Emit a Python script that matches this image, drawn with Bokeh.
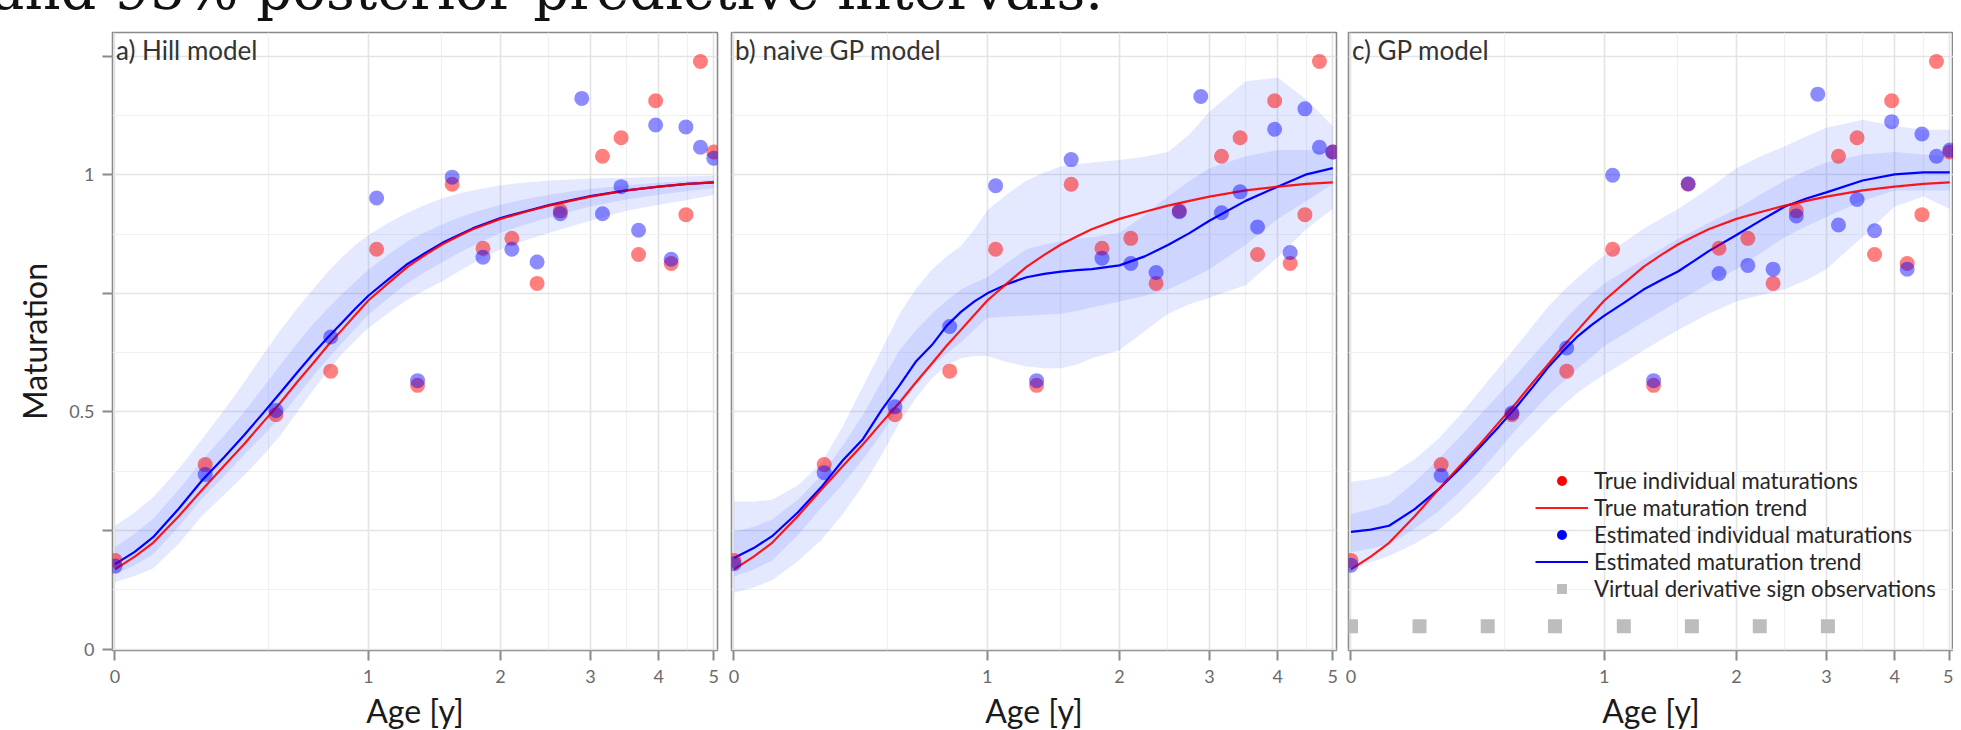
import numpy as np
from bokeh.plotting import figure
from bokeh.models import (ColumnDataSource, FixedTicker, Range1d, Label, Legend,
                          LegendItem, Div)
from bokeh.layouts import row, column
from bokeh.transform import dodge
from bokeh.embed import file_html
from bokeh.resources import INLINE

NAN = float("nan")

# ---------------- data ----------------
# ages of the simulated individuals [y]
AGES = [0.00, 0.26, 0.53, 0.79, 1.05, 1.32, 1.58, 1.84, 2.11, 2.37,
        2.63, 2.89, 3.16, 3.42, 3.68, 3.95, 4.21, 4.47, 4.74, 5.00]
# true individual maturations (the one at 2.89 y lies above the plotted range)
TRUE_IND = [0.187, 0.389, 0.494, 0.586, 0.843, 0.556, 0.980, 0.845, 0.866, 0.771,
            0.924, NAN, 1.039, 1.078, 0.832, 1.156, 0.813, 0.916, 1.239, 1.048]
# estimated individual maturations
HILL_IND = [0.175, 0.368, 0.503, 0.658, 0.951, 0.566, 0.995, 0.826, 0.843, 0.816,
            0.918, 1.161, 0.918, 0.975, 0.883, 1.105, 0.822, 1.101, 1.058, 1.035]
NGP_IND = [0.180, 0.372, 0.511, 0.680, 0.977, 0.566, 1.032, 0.824, 0.813, 0.794,
           0.922, 1.165, 0.920, 0.964, 0.890, 1.096, 0.836, 1.139, 1.058, 1.048]
GP_IND = [0.177, 0.366, 0.498, 0.635, 0.999, 0.566, 0.981, 0.792, 0.809, 0.801,
          0.913, 1.170, 0.894, 0.948, 0.882, 1.112, 0.801, 1.086, 1.039, 1.052]

# trends and intervals, read at these ages [y]
TREND_AGES = [0, 0.05, 0.1, 0.175, 0.25, 0.325, 0.4, 0.475, 0.55, 0.625,
              0.7, 0.775, 0.85, 0.925, 1.0, 1.125, 1.25, 1.375, 1.5, 1.625,
              1.75, 2.0, 2.25, 2.5, 2.75, 3.0, 3.5, 4.0, 4.5, 5.0]
TRUE_TREND = [0.168, 0.195, 0.224, 0.280, 0.336, 0.386, 0.432, 0.478, 0.520, 0.563,
              0.602, 0.640, 0.673, 0.705, 0.735, 0.772, 0.806, 0.831, 0.853, 0.870,
              0.885, 0.907, 0.922, 0.935, 0.945, 0.954, 0.967, 0.975, 0.981, 0.984]

HILL_TREND = [0.179, 0.205, 0.236, 0.296, 0.356, 0.404, 0.451, 0.497, 0.541, 0.583,
              0.622, 0.657, 0.688, 0.718, 0.745, 0.780, 0.812, 0.835, 0.856, 0.872,
              0.887, 0.909, 0.923, 0.936, 0.946, 0.955, 0.967, 0.975, 0.981, 0.984]
HILL_95_HI = [0.260, 0.288, 0.320, 0.380, 0.443, 0.503, 0.562, 0.620, 0.673, 0.718,
              0.758, 0.795, 0.826, 0.852, 0.873, 0.899, 0.920, 0.937, 0.950, 0.960,
              0.967, 0.978, 0.984, 0.988, 0.990, 0.992, 0.994, 0.996, 0.997, 0.998]
HILL_95_LO = [0.141, 0.154, 0.170, 0.222, 0.281, 0.325, 0.366, 0.408, 0.451, 0.500,
              0.545, 0.586, 0.622, 0.651, 0.677, 0.709, 0.737, 0.757, 0.775, 0.795,
              0.813, 0.843, 0.862, 0.877, 0.891, 0.903, 0.924, 0.937, 0.947, 0.958]
HILL_50_HI = [0.215, 0.243, 0.275, 0.336, 0.398, 0.450, 0.500, 0.551, 0.600, 0.645,
              0.685, 0.718, 0.748, 0.775, 0.800, 0.832, 0.860, 0.879, 0.895, 0.909,
              0.920, 0.937, 0.949, 0.958, 0.965, 0.970, 0.978, 0.983, 0.987, 0.989]
HILL_50_LO = [0.158, 0.177, 0.200, 0.258, 0.318, 0.364, 0.410, 0.450, 0.490, 0.533,
              0.575, 0.612, 0.645, 0.676, 0.705, 0.740, 0.772, 0.795, 0.815, 0.834,
              0.850, 0.878, 0.895, 0.910, 0.922, 0.933, 0.948, 0.958, 0.966, 0.972]

NGP_TREND = [0.192, 0.213, 0.238, 0.288, 0.341, 0.398, 0.443, 0.505, 0.556, 0.607,
             0.641, 0.682, 0.711, 0.733, 0.750, 0.770, 0.784, 0.791, 0.796, 0.799,
             0.801, 0.809, 0.828, 0.852, 0.877, 0.903, 0.945, 0.975, 1.001, 1.014]
NGP_95_HI = [0.311, 0.311, 0.315, 0.345, 0.392, 0.470, 0.554, 0.632, 0.707, 0.760,
             0.800, 0.828, 0.850, 0.885, 0.925, 0.960, 0.988, 1.005, 1.018, 1.022,
             1.026, 1.031, 1.038, 1.048, 1.085, 1.133, 1.197, 1.205, 1.158, 1.103]
NGP_95_LO = [0.119, 0.130, 0.145, 0.185, 0.230, 0.285, 0.345, 0.410, 0.477, 0.530,
             0.571, 0.598, 0.613, 0.618, 0.618, 0.605, 0.596, 0.592, 0.592, 0.600,
             0.613, 0.630, 0.670, 0.707, 0.727, 0.741, 0.767, 0.826, 0.886, 0.928]
NGP_50_HI = [0.247, 0.258, 0.273, 0.315, 0.366, 0.430, 0.494, 0.565, 0.630, 0.673,
             0.707, 0.735, 0.758, 0.772, 0.784, 0.815, 0.843, 0.853, 0.860, 0.865,
             0.869, 0.877, 0.915, 0.954, 0.987, 1.014, 1.039, 1.052, 1.052, 1.048]
NGP_50_LO = [0.153, 0.168, 0.187, 0.240, 0.298, 0.348, 0.400, 0.455, 0.511, 0.556,
             0.596, 0.623, 0.647, 0.674, 0.698, 0.701, 0.703, 0.705, 0.707, 0.713,
             0.720, 0.733, 0.745, 0.758, 0.779, 0.801, 0.852, 0.907, 0.945, 0.980]

GP_TREND = [0.247, 0.252, 0.260, 0.295, 0.336, 0.381, 0.426, 0.469, 0.511, 0.554,
            0.596, 0.630, 0.660, 0.683, 0.703, 0.731, 0.758, 0.778, 0.796, 0.818,
            0.839, 0.873, 0.905, 0.933, 0.950, 0.963, 0.988, 1.001, 1.005, 1.005]
GP_95_HI = [0.353, 0.358, 0.366, 0.400, 0.443, 0.493, 0.545, 0.593, 0.639, 0.683,
            0.724, 0.756, 0.784, 0.808, 0.830, 0.859, 0.886, 0.908, 0.928, 0.950,
            0.971, 1.014, 1.040, 1.060, 1.081, 1.099, 1.116, 1.103, 1.095, 1.095]
GP_95_LO = [0.170, 0.183, 0.196, 0.222, 0.251, 0.290, 0.332, 0.374, 0.417, 0.452,
            0.486, 0.515, 0.541, 0.561, 0.579, 0.605, 0.630, 0.652, 0.673, 0.690,
            0.707, 0.733, 0.747, 0.758, 0.778, 0.801, 0.869, 0.933, 0.954, 0.928]
GP_50_HI = [0.285, 0.295, 0.307, 0.352, 0.400, 0.447, 0.494, 0.537, 0.579, 0.619,
            0.656, 0.692, 0.724, 0.749, 0.771, 0.797, 0.822, 0.844, 0.865, 0.882,
            0.899, 0.928, 0.960, 0.988, 1.009, 1.026, 1.043, 1.048, 1.043, 1.039]
GP_50_LO = [0.204, 0.212, 0.221, 0.254, 0.290, 0.332, 0.375, 0.420, 0.464, 0.501,
            0.537, 0.565, 0.592, 0.616, 0.639, 0.665, 0.690, 0.712, 0.733, 0.752,
            0.771, 0.801, 0.836, 0.869, 0.892, 0.911, 0.945, 0.967, 0.967, 0.967]

# virtual derivative sign observations (GP model)
VDS_AGES = [0.0, 0.19, 0.43, 0.73, 1.12, 1.61, 2.23, 3.02]
VDS_LEVEL = [0.048, 0.048, 0.048, 0.048, 0.048, 0.048, 0.048, 0.048]

# axis ticks
X_TICKS = [0, 1, 2, 3, 4, 5]
X_MINOR = [0.5, 1.5, 2.5, 3.5, 4.5]
Y_TICKS = [0.0, 0.25, 0.5, 0.75, 1.0, 1.25]
Y_LABELS = ["0", "", "0.5", "", "1", ""]
Y_MINOR = [0.125, 0.375, 0.625, 0.875, 1.125]

AGE_SHIFT = 0.7  # the age axis is logarithmic in (age + 0.7 y)

# ---------------- styling ----------------
FONT = "Lato"
RED = "#ff0000"
BLUE = "#0000ff"
BAND = "#3355ff"
GRID = "#e4e4e4"
GRID_MINOR = "#f0f0f0"
BORDER = "#8a8a8a"

x_ticker = FixedTicker(ticks=[t + AGE_SHIFT for t in X_TICKS],
                       minor_ticks=[t + AGE_SHIFT for t in X_MINOR])
x_labels = {t + AGE_SHIFT: str(t) for t in X_TICKS}
y_ticker = FixedTicker(ticks=Y_TICKS, minor_ticks=Y_MINOR)
y_labels = dict(zip(Y_TICKS, Y_LABELS))


def arr(v):
    return np.array(v, dtype=float)


def make_panel(tag, width, left, right, ind, trend, lo95, hi95, lo50, hi50, show_y):
    p = figure(width=width, height=704, x_axis_type="log",
               x_range=Range1d(0.6939, 5.775), y_range=Range1d(-0.003, 1.3),
               output_backend="svg", toolbar_location=None,
               min_border_left=left, min_border_right=right,
               min_border_top=4, min_border_bottom=79,
               background_fill_color="white", border_fill_color="white",
               outline_line_color=BORDER, outline_line_width=1.6)

    band = ColumnDataSource(dict(age=arr(TREND_AGES), true=arr(TRUE_TREND),
                                 est=arr(trend), lo95=arr(lo95), hi95=arr(hi95),
                                 lo50=arr(lo50), hi50=arr(hi50)))
    pts = ColumnDataSource(dict(age=arr(AGES), true=arr(TRUE_IND), est=arr(ind)))
    ax = dodge("age", AGE_SHIFT)

    p.varea(x=ax, y1="lo95", y2="hi95", source=band, fill_color=BAND, fill_alpha=0.13)
    p.varea(x=ax, y1="lo50", y2="hi50", source=band, fill_color=BAND, fill_alpha=0.13)
    r_est_line = p.line(x=ax, y="est", source=band, line_color=BLUE, line_width=2.2)
    r_true_line = p.line(x=ax, y="true", source=band, line_color=RED, line_width=2.2,
                         line_alpha=0.9)
    p.scatter(x=ax, y="true", source=pts, size=15, fill_color=RED, fill_alpha=0.5,
              line_color=None)
    p.scatter(x=ax, y="est", source=pts, size=15, fill_color=BLUE, fill_alpha=0.45,
              line_color=None)

    # axes
    xa = p.xaxis[0]
    xa.ticker = x_ticker
    xa.major_label_overrides = x_labels
    xa.axis_label = "Age [y]"
    xa.axis_label_text_font = FONT
    xa.axis_label_text_font_size = "32px"
    xa.axis_label_text_font_style = "normal"
    xa.axis_label_text_color = "#1a1a1a"
    xa.axis_label_standoff = 5
    xa.major_label_text_font = FONT
    xa.major_label_text_font_size = "18px"
    xa.major_label_text_color = "#6a6a6a"
    xa.major_label_standoff = 9
    xa.major_tick_out = 10
    xa.major_tick_in = 0
    xa.major_tick_line_color = BORDER
    xa.major_tick_line_width = 2
    xa.minor_tick_line_color = None
    xa.axis_line_color = None

    ya = p.yaxis[0]
    ya.ticker = y_ticker
    ya.major_label_overrides = y_labels
    if show_y:
        ya.axis_label = "Maturation"
        ya.axis_label_text_font = FONT
        ya.axis_label_text_font_size = "32px"
        ya.axis_label_text_font_style = "normal"
        ya.axis_label_text_color = "#1a1a1a"
        ya.axis_label_standoff = 12
        ya.major_label_text_font = FONT
        ya.major_label_text_font_size = "18px"
        ya.major_label_text_color = "#6a6a6a"
        ya.major_label_standoff = 8
        ya.major_tick_out = 10
        ya.major_tick_in = 0
        ya.major_tick_line_color = BORDER
        ya.major_tick_line_width = 2
        ya.minor_tick_line_color = None
        ya.axis_line_color = None
    else:
        ya.visible = False

    # grid
    for g, tk in ((p.xgrid[0], x_ticker), (p.ygrid[0], y_ticker)):
        g.ticker = tk
        g.grid_line_color = GRID
        g.grid_line_width = 1.6
        g.minor_grid_line_color = GRID_MINOR
        g.minor_grid_line_width = 1.2

    p.add_layout(Label(x=AGE_SHIFT, y=1.263, text=tag, text_font=FONT,
                       text_font_size="26px", text_color="#333333",
                       text_align="left", text_baseline="middle", x_offset=1))
    return p, r_true_line, r_est_line


pa, _, _ = make_panel("a) Hill model", 732, 120, 7, HILL_IND, HILL_TREND,
                      HILL_95_LO, HILL_95_HI, HILL_50_LO, HILL_50_HI, True)
pb, _, _ = make_panel("b) naive GP model", 618, 7, 6, NGP_IND, NGP_TREND,
                      NGP_95_LO, NGP_95_HI, NGP_50_LO, NGP_50_HI, False)
pc, r_true_c, r_est_c = make_panel("c) GP model", 611, 6, 0, GP_IND, GP_TREND,
                                   GP_95_LO, GP_95_HI, GP_50_LO, GP_50_HI, False)

vds = ColumnDataSource(dict(age=arr(VDS_AGES), level=arr(VDS_LEVEL)))
r_vds = pc.scatter(x=dodge("age", AGE_SHIFT), y="level", source=vds, marker="square",
                   size=14, fill_color="#bdbdbd", line_color=None)

# legend swatches: solid keys, with no visible mark in the plot itself
key_src = ColumnDataSource(dict(x=arr([NAN]), y=arr([NAN])))
r_key_red = pc.scatter(x="x", y="y", source=key_src, size=16, fill_color=RED,
                       line_color=None)
r_key_blue = pc.scatter(x="x", y="y", source=key_src, size=16, fill_color=BLUE,
                        line_color=None)

legend = Legend(items=[
    LegendItem(label="True individual maturations", renderers=[r_key_red]),
    LegendItem(label="True maturation trend", renderers=[r_true_c]),
    LegendItem(label="Estimated individual maturations", renderers=[r_key_blue]),
    LegendItem(label="Estimated maturation trend", renderers=[r_est_c]),
    LegendItem(label="Virtual derivative sign observations", renderers=[r_vds]),
], location=(187, 48), orientation="vertical", glyph_width=53, glyph_height=25,
    label_height=25, label_standoff=6, spacing=0, padding=0, margin=0,
    border_line_color=None, background_fill_alpha=0,
    label_text_font=FONT, label_text_font_size="22.2px",
    label_text_color="#262626")
pc.add_layout(legend)

title_div = Div(
    text=('<div style="font-family:\'DejaVu Serif\';font-size:56px;line-height:56px;'
          'white-space:nowrap;margin-left:-6px;margin-top:-35px;color:#111;">'
          'and 95% posterior predictive intervals.</div>'),
    width=1961, height=26, styles={"overflow": "hidden"})

layout = column(title_div, row(pa, pb, pc), margin=(-8, 0, 0, -8))

open("out.html", "w").write(file_html(layout, INLINE))
